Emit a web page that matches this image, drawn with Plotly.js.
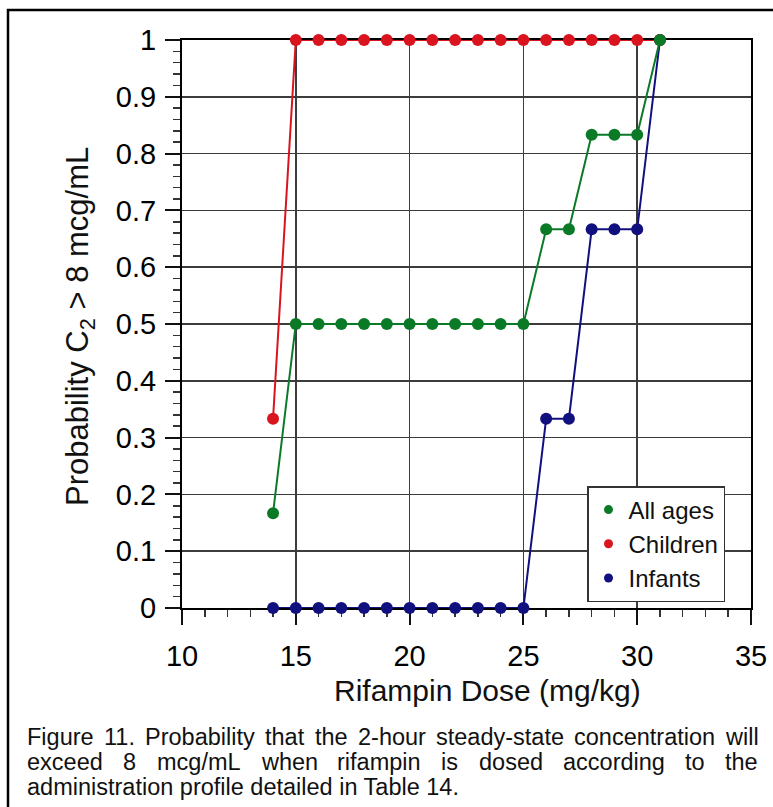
<!DOCTYPE html>
<html>
<head>
<meta charset="utf-8">
<script src="https://cdn.plot.ly/plotly-3.0.1.min.js"></script>
<style>
html,body{margin:0;padding:0;background:#fff;}
#chart{width:773px;height:807px;}
</style>
</head>
<body>
<div id="chart"></div>
<script>
// ---- data ----
const doses    = [14,15,16,17,18,19,20,21,22,23,24,25,26,27,28,29,30,31];
const allAges  = [0.1667,0.5,0.5,0.5,0.5,0.5,0.5,0.5,0.5,0.5,0.5,0.5,0.6667,0.6667,0.8333,0.8333,0.8333,1];
const children = [0.3333,1,1,1,1,1,1,1,1,1,1,1,1,1,1,1,1,1];
const infants  = [0,0,0,0,0,0,0,0,0,0,0,0,0.3333,0.3333,0.6667,0.6667,0.6667,1];
const seriesNames = ['All ages','Children','Infants'];
const xTitle = 'Rifampin Dose (mg/kg)';
const yTitle = 'Probability C<sub>2</sub> > 8 mcg/mL';
const captionLine1 = 'Figure 11. Probability that the 2-hour steady-state concentration will';
const captionLine2 = 'exceed 8 mcg/mL when rifampin is dosed according to the';
const captionLine3 = 'administration profile detailed in Table 14.';

// ---- style ----
const FONT = 'Liberation Sans, Arial, sans-serif';
const GREEN = '#0b7a26', RED = '#d9141f', BLUE = '#10107e';
const W = 773, H = 807;
const M = {l:182, r:22, t:40, b:199};
const PW = W - M.l - M.r, PH = H - M.t - M.b;
const px2x = px => (px - M.l) / PW;
const py2y = py => (H - M.b - py) / PH;

const ctx = document.createElement('canvas').getContext('2d');
const CAP_SIZE = 23.5;
ctx.font = CAP_SIZE + 'px "Liberation Sans"';
function lineAnns(text, yc, x0, x1, justify) {
  if (!justify) {
    return [{text:text, x:px2x(x0), y:py2y(yc), xref:'paper', yref:'paper', xanchor:'left', yanchor:'middle',
             showarrow:false, borderpad:0, font:{family:FONT, size:CAP_SIZE, color:'#111'}}];
  }
  const words = text.split(' ');
  const widths = words.map(w => ctx.measureText(w).width);
  const total = widths.reduce((a,b)=>a+b,0);
  const gap = (x1 - x0 - total) / (words.length - 1);
  let x = x0; const out = [];
  words.forEach((w,i) => {
    out.push({text:w, x:px2x(x), y:py2y(yc), xref:'paper', yref:'paper', xanchor:'left', yanchor:'middle',
              showarrow:false, borderpad:0, font:{family:FONT, size:CAP_SIZE, color:'#111'}});
    x += widths[i] + gap;
  });
  return out;
}

const lineTrace = (name, y, color) => ({
  type:'scatter', mode:'lines+markers', name:name, x:doses, y:y, showlegend:false, cliponaxis:false,
  line:{color:color, width:2}, marker:{color:color, size:12}
});
const legendTrace = (name, color, rank) => ({
  type:'scatter', mode:'markers', name:name, x:[null], y:[null], legendrank:rank,
  marker:{color:color, size:9}
});

const data = [
  lineTrace(seriesNames[2], infants, BLUE),
  lineTrace(seriesNames[1], children, RED),
  lineTrace(seriesNames[0], allAges, GREEN),
  legendTrace(seriesNames[0], GREEN, 1),
  legendTrace(seriesNames[1], RED, 2),
  legendTrace(seriesNames[2], BLUE, 3)
];

const axisCommon = {
  showgrid:true, gridcolor:'#3c3c3c', gridwidth:1.5,
  showline:true, linecolor:'#000', linewidth:2, mirror:true,
  ticks:'outside', ticklen:15, tickwidth:2, tickcolor:'#111',
  tickfont:{family:FONT, size:29, color:'#000'},
  zeroline:false, layer:'below traces', fixedrange:true
};

const annotations = [
  {text:xTitle, x:px2x(487), y:py2y(690), xref:'paper', yref:'paper', xanchor:'center', yanchor:'middle',
   showarrow:false, font:{family:FONT, size:30, color:'#111'}},
  {text:yTitle, x:px2x(80), y:py2y(327), xref:'paper', yref:'paper', xanchor:'center', yanchor:'middle',
   textangle:-90, showarrow:false, font:{family:FONT, size:31, color:'#111'}}
].concat(
  lineAnns(captionLine1, 737, 26, 757, true),
  lineAnns(captionLine2, 762, 26, 757, true),
  lineAnns(captionLine3, 787, 26, 757, false)
);

const layout = {
  width:W, height:H, margin:M,
  paper_bgcolor:'#fff', plot_bgcolor:'#fff',
  font:{family:FONT, color:'#000'},
  showlegend:true,
  legend:{x:px2x(587), y:py2y(486), xanchor:'left', yanchor:'top',
          bgcolor:'#fff', bordercolor:'#333', borderwidth:1.5,
          entrywidth:130, entrywidthmode:'pixels',
          font:{family:FONT, size:24, color:'#111'}, tracegroupgap:0},
  xaxis:Object.assign({}, axisCommon, {
    range:[10,35], tick0:10, dtick:5, ticklabelstandoff:6,
    minor:{dtick:1, ticks:'outside', ticklen:7, tickwidth:1.5, tickcolor:'#333', showgrid:false}
  }),
  yaxis:Object.assign({}, axisCommon, {
    range:[0,1], tick0:0, dtick:0.1, ticklabelstandoff:3,
    minor:{dtick:0.02, ticks:'outside', ticklen:7, tickwidth:1.5, tickcolor:'#333', showgrid:false}
  }),
  annotations:annotations,
  shapes:[{type:'rect', xref:'paper', yref:'paper',
           x0:px2x(8), x1:px2x(775), y0:py2y(812), y1:py2y(10),
           line:{color:'#000', width:2.5}, fillcolor:'rgba(0,0,0,0)', layer:'below'}]
};

Plotly.newPlot('chart', data, layout, {displayModeBar:false, staticPlot:true});
</script>
</body>
</html>
